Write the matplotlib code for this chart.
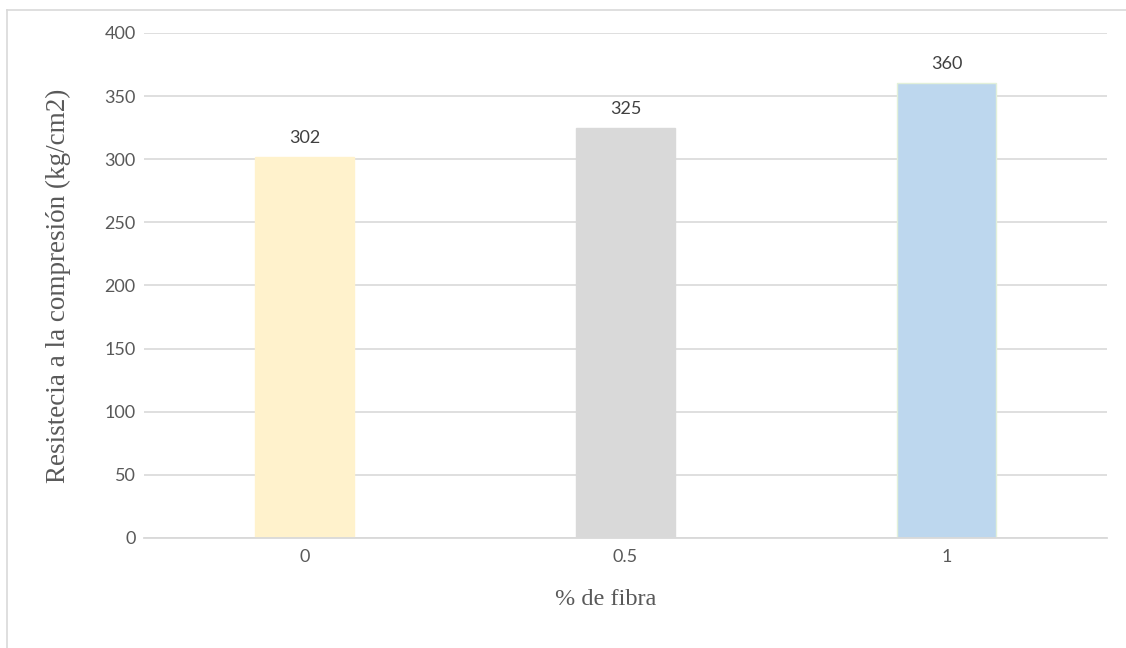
import matplotlib.pyplot as plt
from matplotlib.lines import Line2D

# Datos: resistencia a la compresión según el porcentaje de fibra
fibra = ['0', '0.5', '1']
resistencia = [302, 325, 360]
colores = ['#FFF2CC', '#D9D9D9', '#BDD7EE']
bordes = ['#FFF2CC', '#D9D9D9', '#E2F0D9']

fig = plt.figure(figsize=(11.26, 6.48), dpi=100)
ax = fig.add_axes([0.1279, 0.1698, 0.8552, 0.7793])

x = range(len(fibra))
barras = ax.bar(x, resistencia, width=0.31, color=colores, edgecolor=bordes,
                linewidth=1, zorder=3)

for b, v in zip(barras, resistencia):
    ax.annotate(str(v), (b.get_x() + b.get_width() / 2, v), xytext=(0, 8),
                textcoords='offset points', ha='center', va='bottom',
                fontsize=13, family='Lato', color='#404040')

ax.set_xlim(-0.5, 2.5)
ax.set_ylim(0, 400)
ax.set_yticks(range(0, 401, 50))
ax.set_xticks(list(x))
ax.set_xticklabels(fibra)

ax.grid(axis='y', color='#D9D9D9', linewidth=1.2, zorder=0)
for lado in ['top', 'right', 'left']:
    ax.spines[lado].set_visible(False)
ax.spines['bottom'].set_color('#D9D9D9')
ax.spines['bottom'].set_linewidth(1.3)
ax.spines['bottom'].set_zorder(4)

ax.tick_params(length=0, labelsize=13, labelcolor='#595959')
ax.tick_params(axis='y', pad=6)
ax.tick_params(axis='x', pad=8)
for t in ax.get_xticklabels() + ax.get_yticklabels():
    t.set_family('Lato')

ax.set_xlabel('% de fibra', family='Liberation Serif', fontsize=17.5,
              color='#595959', labelpad=17)
ax.xaxis.label.set_x(0.479)
ax.set_ylabel('Resistecia a la compresión (kg/cm2)', family='Liberation Serif',
              fontsize=19.5, color='#595959')
ax.yaxis.set_label_coords(-0.0758, 0.5)

# marco del gráfico (borde superior e izquierdo)
fig.add_artist(Line2D([7 / 1126, 1.0], [1 - 9.5 / 648, 1 - 9.5 / 648],
                      transform=fig.transFigure, color='#D9D9D9', linewidth=1.2))
fig.add_artist(Line2D([7 / 1126, 7 / 1126], [0, 1 - 9.5 / 648],
                      transform=fig.transFigure, color='#D9D9D9', linewidth=1.2))

fig.savefig('out.png', dpi=100)
